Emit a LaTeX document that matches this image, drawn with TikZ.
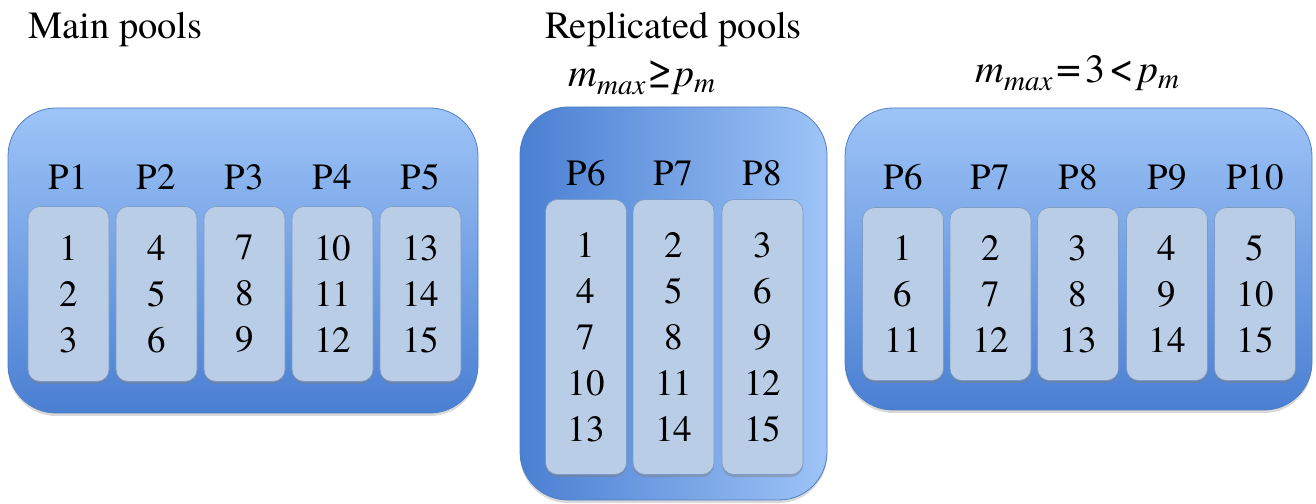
\documentclass[tikz,border=0pt]{standalone}
\usepackage{fontspec}
\IfFontExistsTF{texgyretermes-regular.otf}{%
  \setmainfont{texgyretermes}[Extension=.otf,
    UprightFont=*-regular, ItalicFont=*-italic,
    BoldFont=*-bold, BoldItalicFont=*-bolditalic]%
}{%
  \setmainfont{Liberation Serif}%
}
\usetikzlibrary{shadows}

\definecolor{poolLight}{HTML}{9EC4F7}
\definecolor{poolDark}{HTML}{4A7FD2}
\definecolor{poolEdge}{HTML}{4F7EC4}
\definecolor{colFill}{HTML}{B9CDE6}
\definecolor{colEdge}{HTML}{7C9BC8}

% subscript in italic, lowered below the baseline
\newcommand{\subit}[2][8pt]{\raisebox{-#1}{\fontsize{29}{29}\selectfont\itshape #2}}
% an upright relation symbol, set a little larger, with room around it
\newcommand{\rel}[2][3pt]{\hspace{#1}{\upshape\fontsize{44}{44}\selectfont #2}\hspace{#1}}

\begin{document}
\begin{tikzpicture}[x=1pt,y=1pt,
  pool/.style={draw=poolEdge, line width=0.8pt, rounded corners=48pt,
    drop shadow={opacity=0.3, shadow xshift=0pt, shadow yshift=-3pt}},
  vpool/.style={pool, top color=poolLight, bottom color=poolDark},
  hpool/.style={pool, left color=poolDark, right color=poolLight},
  column/.style={draw=colEdge, line width=0.6pt, fill=colFill,
    rounded corners=12pt, minimum width=81pt, inner sep=0pt, align=center,
    font=\rmfamily\fontsize{37}{46}\selectfont,
    drop shadow={opacity=0.45, shadow xshift=0pt, shadow yshift=-2.5pt}},
  plabel/.style={font=\rmfamily\fontsize{37}{42}\selectfont, inner sep=0pt},
  title/.style={font=\rmfamily\fontsize{38.5}{44}\selectfont, inner sep=0pt, anchor=base west},
  formula/.style={font=\rmfamily\fontsize{40}{44}\selectfont\itshape, inner sep=0pt, anchor=base west}]

\useasboundingbox (0,0) rectangle (1316,503);

% headings
\node[title] (tmain) at (28,464) {Main pools};
\node[title] (trep) at (545,464) {Replicated pools};
\node[formula] (f1) at (568,416) {m\subit{max}\rel[2pt]{≥}p\subit[6pt]{m}};
\node[formula] (f2) at (975,420) {m\subit{max}\rel[4pt]{=}\upshape 3\rel[4pt]{<}\itshape p\subit[6pt]{m}};

% main pools
\node[vpool, minimum width=470pt, minimum height=305pt] (main) at (243,242.5) {};
\foreach \i/\x/\nums in {1/68.5/{1\\2\\3}, 2/156.5/{4\\5\\6}, 3/244.5/{7\\8\\9},
                          4/332.5/{10\\11\\12}, 5/420.5/{13\\14\\15}} {
  \node[column, minimum height=175pt] (m\i) at (\x,209) {\nums};
  \node[plabel] (lm\i) at (\x,326) {P\i};
}

% replicated pools, m_max >= p_m
\node[hpool, minimum width=307pt, minimum height=393pt] (repa) at (673.5,199.5) {};
\foreach \i/\x/\nums in {6/586/{1\\4\\7\\10\\13}, 7/673.5/{2\\5\\8\\11\\14},
                          8/762.5/{3\\6\\9\\12\\15}} {
  \node[column, minimum height=275pt] (a\i) at (\x,166) {\nums};
  \node[plabel] (la\i) at (\x,330) {P\i};
}

% replicated pools, m_max = 3 < p_m
\node[vpool, minimum width=467pt, minimum height=302pt] (repb) at (1078.5,244) {};
\foreach \i/\x/\nums in {6/903/{1\\6\\11}, 7/990.5/{2\\7\\12}, 8/1078/{3\\8\\13},
                          9/1167/{4\\9\\14}, 10/1255/{5\\10\\15}} {
  \node[column, minimum height=173pt] (b\i) at (\x,209) {\nums};
  \node[plabel] (lb\i) at (\x,326) {P\i};
}
\end{tikzpicture}
\end{document}
